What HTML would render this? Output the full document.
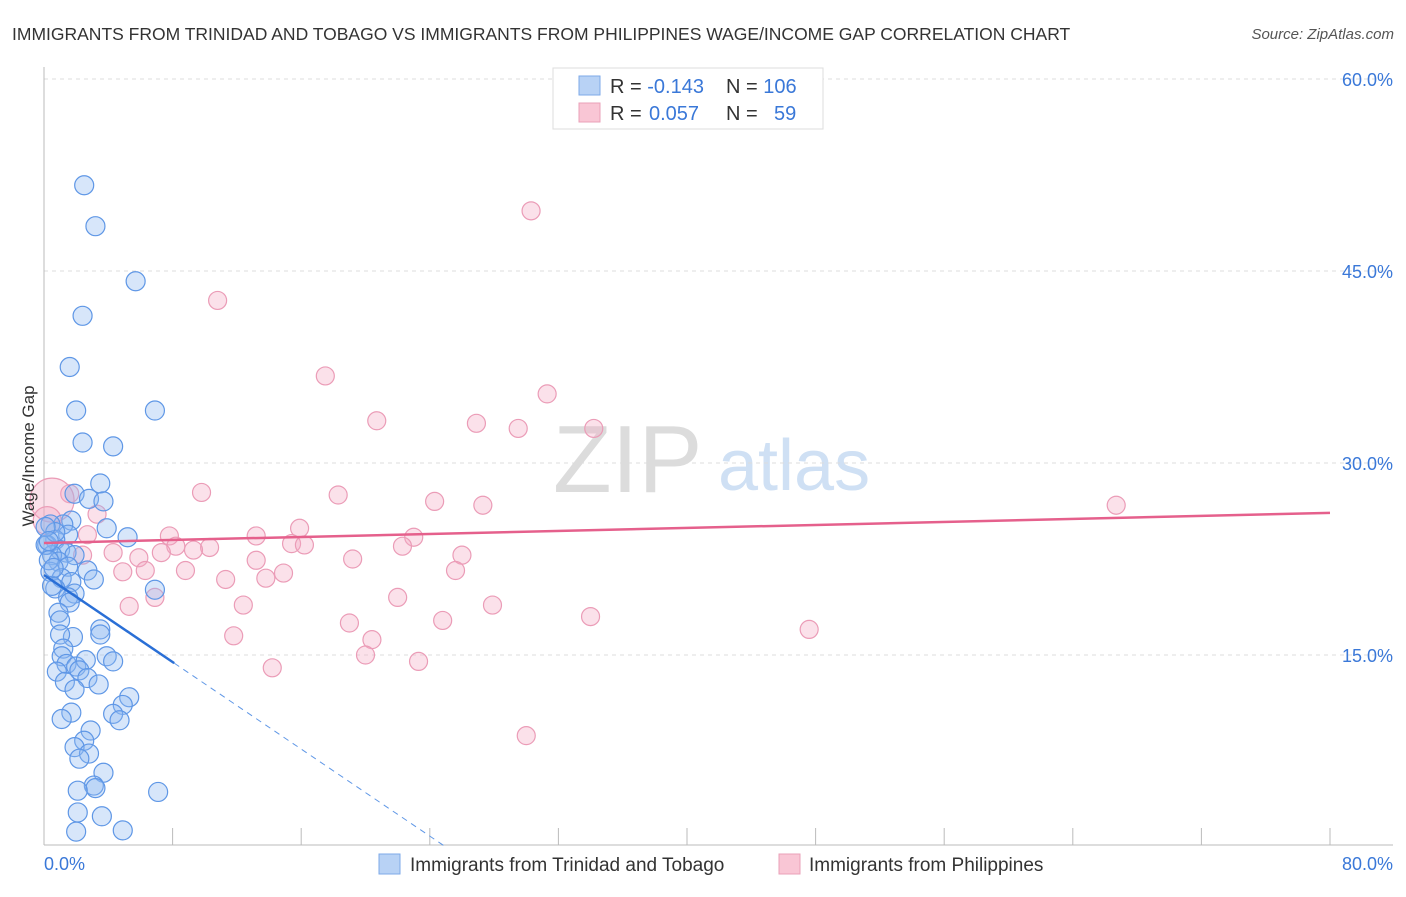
<!DOCTYPE html>
<html><head><meta charset="utf-8"><style>
body{margin:0;background:#fff;font-family:"Liberation Sans",sans-serif}
svg text{font-family:"Liberation Sans",sans-serif}
</style></head><body>
<svg id="chart" width="1406" height="892" xmlns="http://www.w3.org/2000/svg">
<text x="12" y="40" font-size="17.5" fill="#333">IMMIGRANTS FROM TRINIDAD AND TOBAGO VS IMMIGRANTS FROM PHILIPPINES WAGE/INCOME GAP CORRELATION CHART</text>
<text x="1394" y="39" font-size="15" fill="#555" font-style="italic" text-anchor="end">Source: ZipAtlas.com</text>
<g>
<text x="553" y="492" font-size="96" font-family="Liberation Serif, serif" fill="#dcdcdc">ZIP</text>
<text x="718" y="490" font-size="72" fill="#cfe0f4">atlas</text>
</g>
<g id="grid"></g>
<g id="axes"></g>
<g id="pink"></g>
<g id="blue"></g>
<g id="trends"></g>
<text transform="translate(34,456) rotate(-90)" font-size="17" fill="#333" text-anchor="middle">Wage/Income Gap</text>
<g>
<rect x="553" y="68" width="270" height="61" fill="#fff" stroke="#ddd"/>
<rect x="579" y="76" width="21" height="19" fill="#b8d2f5" stroke="#7eaae8"/>
<rect x="579" y="103" width="21" height="19" fill="#f9c6d5" stroke="#eaa0b8"/>
<text x="610" y="93" font-size="20" fill="#333">R = <tspan fill="#3a78d8">-0.143</tspan><tspan x="726">N = </tspan><tspan fill="#3a78d8">106</tspan></text>
<text x="610" y="120" font-size="20" fill="#333">R = <tspan fill="#3a78d8" x="649">0.057</tspan><tspan x="726">N = </tspan><tspan fill="#3a78d8" x="774">59</tspan></text>
</g>
<g>
<rect x="379" y="854" width="21" height="20" fill="#b8d2f5" stroke="#7eaae8"/>
<text x="410" y="871" font-size="19" fill="#333">Immigrants from Trinidad and Tobago</text>
<rect x="779" y="854" width="21" height="20" fill="#f9c6d5" stroke="#eaa0b8"/>
<text x="809" y="871" font-size="19" fill="#333">Immigrants from Philippines</text>
</g>
</svg>
<script>
const yTicks=[15,30,45,60];
const yTickLabels=["15.0%","30.0%","45.0%","60.0%"];
const xTicks=[0,8,16,24,32,40,48,56,64,72,80];
const blueX=[2.5,3.2,5.7,2.4,1.6,2.0,6.9,2.4,4.3,3.5,1.9,2.8,3.7,1.7,3.9,1.2,0.4,5.2,1.5,0.7,0.2,1.0,1.4,0.5,1.9,0.9,2.7,1.5,0.4,1.1,3.1,1.7,0.7,1.9,1.5,1.6,0.9,1.0,3.5,3.5,1.8,1.0,1.2,3.9,4.3,1.1,1.4,2.0,2.6,0.8,2.2,2.7,1.3,3.4,1.9,5.3,4.9,4.3,4.7,1.7,1.1,2.9,2.5,1.9,2.8,2.2,3.7,3.1,3.2,2.1,7.1,2.1,3.6,2.0,4.9,0.1,0.3,0.5,0.7,0.1,6.9,0.3,0.6];
const blueY=[51.7,48.5,44.2,41.5,37.5,34.1,34.1,31.6,31.3,28.4,27.6,27.2,27.0,25.5,24.9,25.2,25.2,24.2,24.4,24.0,23.6,23.2,23.0,22.8,22.8,22.3,21.6,21.9,21.5,21.0,20.9,20.7,20.2,19.8,19.5,19.1,18.3,17.7,17.0,16.6,16.4,16.6,15.5,14.9,14.5,14.9,14.3,14.1,14.6,13.7,13.8,13.2,12.9,12.7,12.3,11.7,11.1,10.4,9.9,10.5,10.0,9.1,8.3,7.8,7.3,6.9,5.8,4.8,4.6,4.4,4.3,2.7,2.4,1.2,1.3,23.6,22.4,20.4,24.6,25.0,20.1,23.9,21.8];
const pinkX=[30.3,10.8,17.5,31.3,20.7,26.9,29.5,34.2,9.8,18.3,24.3,27.3,66.7,1.6,3.3,0.5,15.9,13.2,7.8,2.7,23.0,15.4,16.2,8.2,10.3,22.3,9.3,7.3,4.3,2.4,5.9,19.2,26.0,13.2,8.8,6.3,4.9,25.6,14.9,13.8,11.3,22.0,6.9,27.9,12.4,5.3,34.0,24.8,19.0,47.6,11.8,20.4,20.0,23.3,14.2,30.0,0.2];
const pinkY=[49.7,42.7,36.8,35.4,33.3,33.1,32.7,32.7,27.7,27.5,27.0,26.7,26.7,27.6,26.0,27.1,24.9,24.3,24.3,24.4,24.2,23.7,23.6,23.5,23.4,23.5,23.2,23.0,23.0,22.8,22.6,22.5,22.8,22.4,21.6,21.6,21.5,21.6,21.4,21.0,20.9,19.5,19.5,18.9,18.9,18.8,18.0,17.7,17.5,17.0,16.5,16.2,15.0,14.5,14.0,8.7,25.5];
const pinkR=[9,9,9,9,9,9,9,9,9,9,9,9,9,9,9,22,9,9,9,9,9,9,9,9,9,9,9,9,9,9,9,9,9,9,9,9,9,9,9,9,9,9,9,9,9,9,9,9,9,9,9,9,9,9,9,9,14];
const blueTrend=[21.25,-0.85]; // intercept, slope
const blueSolidEnd=8.1;
const pinkTrend=[23.75,0.0294];
const X0=44,X1=1330,Y0=847,YPX=192/15;
const sx=v=>X0+(X1-X0)*v/80, sy=v=>Y0-v*YPX;
const NS="http://www.w3.org/2000/svg";
function mk(t,a,p){const e=document.createElementNS(NS,t);for(const k in a)e.setAttribute(k,a[k]);p.appendChild(e);return e;}
const grid=document.getElementById('grid'),axes=document.getElementById('axes');
yTicks.forEach((t,i)=>{
 const l=mk('line',{x1:X0,x2:1393,y1:sy(t),y2:sy(t),stroke:'#ddd','stroke-dasharray':'4,4'},grid);
 
 
 const tx=mk('text',{x:1393,y:sy(t)+7,'font-size':18,fill:'#3a78d8','text-anchor':'end'},axes);
 tx.textContent=yTickLabels[i];
 
 
});
mk('line',{x1:X0,x2:X0,y1:67,y2:845,stroke:'#bbb'},axes);
mk('line',{x1:X0,x2:1393,y1:845,y2:845,stroke:'#bbb'},axes);
xTicks.forEach(t=>{const l=mk('line',{x1:sx(t),x2:sx(t),y1:828,y2:845,stroke:'#bbb'},axes);
 
 });
let a=mk('text',{x:44,y:870,'font-size':18,fill:'#3a78d8'},axes);a.textContent='0.0%';

a=mk('text',{x:1393,y:870,'font-size':18,fill:'#3a78d8','text-anchor':'end'},axes);a.textContent='80.0%';

const pg=document.getElementById('pink');
pinkX.forEach((x,i)=>{const c=mk('circle',{cx:sx(x),cy:sy(pinkY[i]),r:pinkR[i],fill:'rgba(244,170,195,0.35)',stroke:'#eb9cb7','stroke-width':1.2},pg);
 
 });
const bg=document.getElementById('blue');
blueX.forEach((x,i)=>{const c=mk('circle',{cx:sx(x),cy:sy(blueY[i]),r:9.5,fill:'rgba(140,182,240,0.35)',stroke:'#5f97e6','stroke-width':1.2},bg);
 
 });
const tg=document.getElementById('trends');
const bAt=x=>blueTrend[0]+blueTrend[1]*x;
const bz=-blueTrend[0]/blueTrend[1];
let t1=mk('line',{x1:sx(0),y1:sy(bAt(0)),x2:sx(blueSolidEnd),y2:sy(bAt(blueSolidEnd)),stroke:'#2a6fd6','stroke-width':2.5},tg);


let t2=mk('line',{x1:sx(blueSolidEnd),y1:sy(bAt(blueSolidEnd)),x2:sx(bz),y2:sy(0),stroke:'#5f97e6','stroke-width':1,'stroke-dasharray':'6,5'},tg);


let t3=mk('line',{x1:sx(0),y1:sy(pinkTrend[0]),x2:sx(80),y2:sy(pinkTrend[0]+pinkTrend[1]*80),stroke:'#e5608c','stroke-width':2.5},tg);


</script>
</body></html>
